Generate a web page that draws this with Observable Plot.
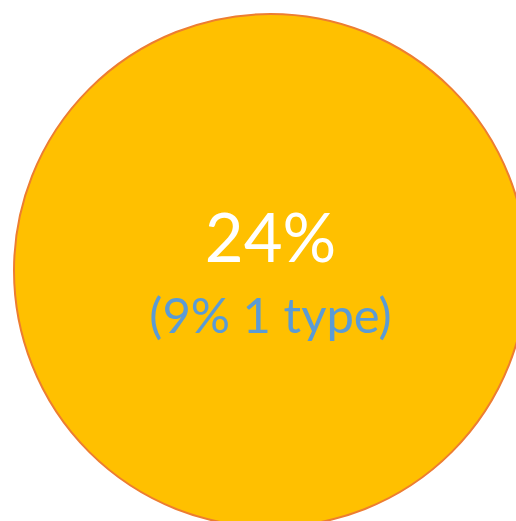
<!DOCTYPE html>
<html>
<head>
<meta charset="utf-8">
<script src="https://cdn.jsdelivr.net/npm/d3@7"></script>
<script src="https://cdn.jsdelivr.net/npm/@observablehq/plot@0.6"></script>
<style>
  html, body { margin: 0; padding: 0; background: #fff; overflow: hidden; }
  svg { display: block; }
</style>
</head>
<body>
<div id="chart"></div>
<script>
const mainValue = [24];
const subValue = [9];
const subLabel = ["1 type"];

const rows = mainValue.map((v, i) => ({main: v, sub: subValue[i], label: subLabel[i]}));

const font = "Lato, Calibri, Carlito, 'Open Sans', sans-serif";

const chart = Plot.plot({
  width: 516,
  height: 521,
  marginLeft: 24,
  marginRight: 0,
  marginTop: 19,
  marginBottom: 0,
  style: {background: "white", fontFamily: font},
  marks: [
    Plot.dot(rows, {frameAnchor: "middle", r: 256.5, fill: "#FFC000", stroke: "#ED7D31", strokeWidth: 2}),
    Plot.text(rows, {frameAnchor: "middle", text: d => `${d.main}%`, fill: "white", fontSize: 67, dy: -30, fontFamily: font}),
    Plot.text(rows, {frameAnchor: "middle", text: d => `(${d.sub}% ${d.label})`, fill: "#5B9BD5", fontSize: 49, dy: 47, fontFamily: font})
  ]
});
document.getElementById("chart").append(chart);
</script>
</body>
</html>
